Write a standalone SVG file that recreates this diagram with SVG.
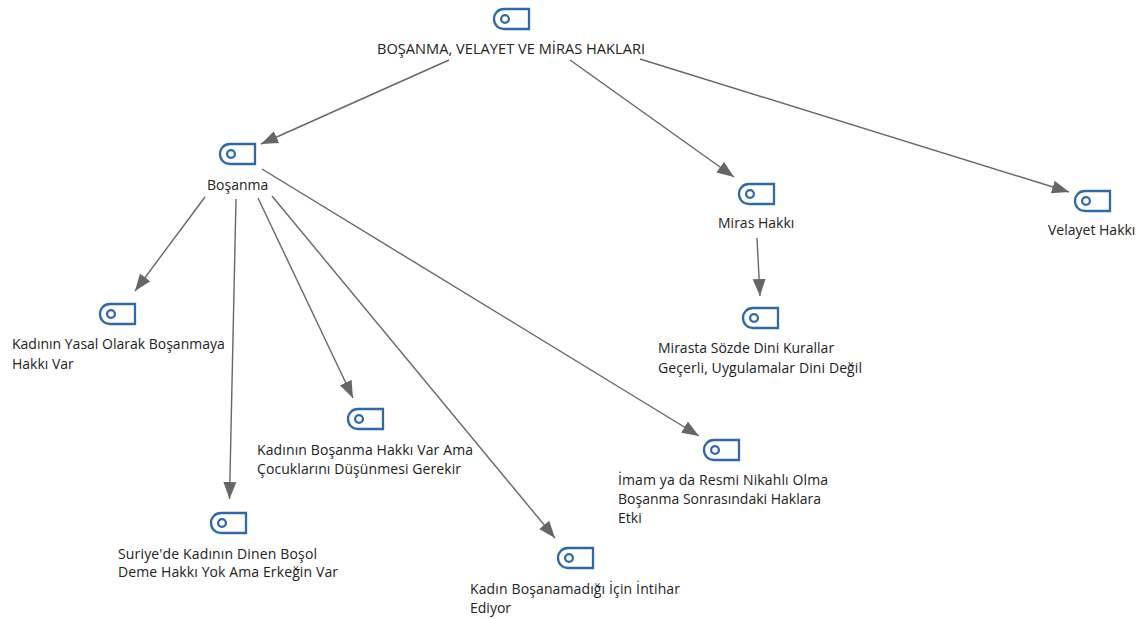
<svg xmlns="http://www.w3.org/2000/svg" width="1144" height="619" viewBox="0 0 1144 619">
<style>
text{font-family:"Open Sans","Noto Sans","Liberation Sans",sans-serif;font-size:14px;fill:#222}
.c{stroke:#666;stroke-width:1.4;fill:none;marker-end:url(#a)}
.i{fill:none;stroke:#2e6aa8;stroke-width:2.3}
</style>
<defs>
<marker id="a" markerUnits="userSpaceOnUse" markerWidth="18" markerHeight="14" refX="17" refY="7" orient="auto"><path d="M0 0.500L17 7L0 13.500Z" fill="#666"/></marker>
<g id="ic"><path class="i" d="M36 1V21H11C5 21 1 16.500 1 11C1 5.500 5 1 11 1Z"/><circle class="i" cx="12" cy="11" r="3.900"/></g>
</defs>
<rect width="1144" height="619" fill="#fff"/>
<g id="connectors">
<path class="c" d="M449 60L261 144"/>
<path class="c" d="M570 60L734 177"/>
<path class="c" d="M640 59L1069 192"/>
<path class="c" d="M205 197L135 291"/>
<path class="c" d="M236 199L229.500 499"/>
<path class="c" d="M258 198L353 398"/>
<path class="c" d="M272 196L555 538"/>
<path class="c" d="M262 169L699 436"/>
<path class="c" d="M757 238L760 296"/>
</g>
<g id="n0"><use href="#ic" x="493" y="8"/><text x="377" y="54" style="font-size:14.600px" textLength="268">BOŞANMA, VELAYET VE MİRAS HAKLARI</text></g>
<g id="n1"><use href="#ic" x="219" y="143"/><text x="207" y="190">Boşanma</text></g>
<g id="n2"><use href="#ic" x="738" y="183"/><text x="718" y="228">Miras Hakkı</text></g>
<g id="n3"><use href="#ic" x="1074" y="190"/><text x="1048" y="235">Velayet Hakkı</text></g>
<g id="n4"><use href="#ic" x="99" y="303"/><text x="12" y="349">Kadının Yasal Olarak Boşanmaya</text><text x="12" y="369">Hakkı Var</text></g>
<g id="n5"><use href="#ic" x="742" y="307"/><text x="658" y="353">Mirasta Sözde Dini Kurallar</text><text x="658" y="373" textLength="204">Geçerli, Uygulamalar Dini Değil</text></g>
<g id="n6"><use href="#ic" x="347" y="408"/><text x="257" y="455" textLength="216">Kadının Boşanma Hakkı Var Ama</text><text x="257" y="474" textLength="204">Çocuklarını Düşünmesi Gerekir</text></g>
<g id="n7"><use href="#ic" x="703" y="439"/><text x="618" y="485" textLength="210">İmam ya da Resmi Nikahlı Olma</text><text x="618" y="504">Boşanma Sonrasındaki Haklara</text><text x="618" y="523">Etki</text></g>
<g id="n8"><use href="#ic" x="210" y="512"/><text x="118" y="559" textLength="199">Suriye'de Kadının Dinen Boşol</text><text x="118" y="577" textLength="220">Deme Hakkı Yok Ama Erkeğin Var</text></g>
<g id="n9"><use href="#ic" x="557" y="547"/><text x="470" y="594" textLength="210">Kadın Boşanamadığı İçin İntihar</text><text x="470" y="613">Ediyor</text></g>
</svg>
